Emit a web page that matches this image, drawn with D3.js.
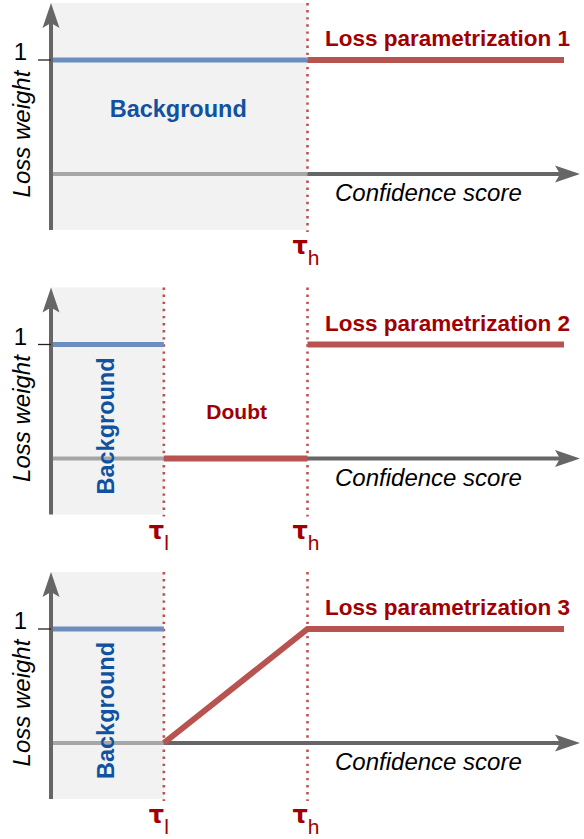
<!DOCTYPE html>
<html>
<head>
<meta charset="utf-8">
<script src="https://cdn.jsdelivr.net/npm/d3@7"></script>
<style>
  html, body { margin: 0; padding: 0; background: #fff; }
  svg { display: block; font-family: "Liberation Sans", Arial, sans-serif; }
</style>
</head>
<body>
<svg id="chart" width="584" height="839"></svg>
<script>
// panel titles and thresholds
const panelTitles = ["Loss parametrization 1", "Loss parametrization 2", "Loss parametrization 3"];
const tauLow = 0.22;
const tauHigh = 0.5;
// where the background (blue) part stops in each panel
const backgroundEnd = [tauHigh, tauLow, tauLow];
const backgroundWeight = [1, 1, 1];
// red loss weight segments, [confidence, weight]
const lossSegments = [
  [[[tauHigh, 1], [1, 1]]],
  [[[tauLow, 0], [tauHigh, 0]], [[tauHigh, 1], [1, 1]]],
  [[[tauLow, 0], [tauHigh, 1], [1, 1]]]
];
const thresholdMarks = [
  [{v: tauHigh, sub: "h"}],
  [{v: tauLow, sub: "l"}, {v: tauHigh, sub: "h"}],
  [{v: tauLow, sub: "l"}, {v: tauHigh, sub: "h"}]
];
const verticalBgLabel = [false, true, true];
const doubtLabel = [false, true, false];
const yTicks = [1];

const svg = d3.select("#chart");
const panelStep = 284.5;
const yTop = 3, yBottom = 230;

const blue = "#6c8ebf", red = "#b85450", darkRed = "#a00000", textBlue = "#10529f";
const dark = "#666666", light = "#a6a6a6", shade = "#f2f2f2";

const x = d3.scaleLinear().domain([0, 1]).range([51, 564]);
const y = d3.scaleLinear().domain([0, 1]).range([174, 60]);
const xArrowEnd = 580;
const line = d3.line().x(d => x(d[0])).y(d => y(d[1]));

panelTitles.forEach((title, i) => {
  const g = svg.append("g").attr("transform", `translate(0,${i * panelStep})`);

  // shaded background area
  g.append("rect")
    .attr("x", x(0)).attr("y", yTop)
    .attr("width", x(backgroundEnd[i]) - x(0))
    .attr("height", yBottom - yTop)
    .attr("fill", shade);

  // threshold dotted lines
  g.selectAll(".thr").data(thresholdMarks[i]).join("line")
    .attr("x1", d => x(d.v)).attr("x2", d => x(d.v))
    .attr("y1", yTop).attr("y2", yBottom + 2)
    .attr("stroke", red).attr("stroke-width", 2.6)
    .attr("stroke-dasharray", "2.4,4.7");

  // x axis (zero line)
  g.append("line")
    .attr("x1", x(0)).attr("x2", x(backgroundEnd[i]))
    .attr("y1", y(0)).attr("y2", y(0))
    .attr("stroke", light).attr("stroke-width", 4);
  g.append("line")
    .attr("x1", x(backgroundEnd[i])).attr("x2", xArrowEnd - 20)
    .attr("y1", y(0)).attr("y2", y(0))
    .attr("stroke", dark).attr("stroke-width", 4);
  g.append("path")
    .attr("d", `M${xArrowEnd},${y(0)} L${xArrowEnd - 25},${y(0) - 8.5} L${xArrowEnd - 20},${y(0)} L${xArrowEnd - 25},${y(0) + 8.5} Z`)
    .attr("fill", dark);

  // background weight
  g.append("path")
    .attr("d", line([[0, backgroundWeight[i]], [backgroundEnd[i], backgroundWeight[i]]]))
    .attr("stroke", blue).attr("stroke-width", 5).attr("fill", "none");

  // loss weight
  g.selectAll(".seg").data(lossSegments[i]).join("path")
    .attr("d", d => line(d))
    .attr("stroke", red).attr("stroke-width", 6)
    .attr("stroke-linejoin", "miter")
    .attr("fill", "none");

  // y axis
  g.append("line")
    .attr("x1", x(0)).attr("x2", x(0))
    .attr("y1", yBottom).attr("y2", yTop + 20)
    .attr("stroke", dark).attr("stroke-width", 4);
  g.append("path")
    .attr("d", `M${x(0)},${yTop} L${x(0) - 8.5},${yTop + 25} L${x(0)},${yTop + 20} L${x(0) + 8.5},${yTop + 25} Z`)
    .attr("fill", dark);

  g.selectAll(".tick").data(yTicks).join("line")
    .attr("x1", 38).attr("x2", x(0))
    .attr("y1", d => y(d)).attr("y2", d => y(d))
    .attr("stroke", "#222").attr("stroke-width", 1.3);
  g.selectAll(".tickLabel").data(yTicks).join("text")
    .attr("x", 27).attr("y", d => y(d))
    .attr("text-anchor", "end")
    .style("font-size", "24px")
    .text(d => d);

  // axis titles
  g.append("text")
    .attr("transform", "translate(30,134) rotate(-90)")
    .attr("text-anchor", "middle")
    .style("font-size", "24px").style("font-style", "italic")
    .text("Loss weight");
  g.append("text")
    .attr("x", 335).attr("y", 201)
    .style("font-size", "24px").style("font-style", "italic")
    .text("Confidence score");

  g.append("text")
    .attr("x", 570).attr("y", 46)
    .attr("text-anchor", "end")
    .attr("fill", darkRed)
    .style("font-size", "22.5px").style("font-weight", "bold")
    .text(title);

  if (verticalBgLabel[i]) {
    g.append("text")
      .attr("transform", "translate(114,141.5) rotate(-90)")
      .attr("text-anchor", "middle")
      .attr("fill", textBlue)
      .style("font-size", "23.5px").style("font-weight", "bold")
      .text("Background");
  } else {
    g.append("text")
      .attr("x", (x(0) + x(backgroundEnd[i])) / 2 - 1).attr("y", 117)
      .attr("text-anchor", "middle")
      .attr("fill", textBlue)
      .style("font-size", "23.5px").style("font-weight", "bold")
      .text("Background");
  }
  if (doubtLabel[i]) {
    g.append("text")
      .attr("x", (x(tauLow) + x(tauHigh)) / 2 + 1).attr("y", 134.5)
      .attr("text-anchor", "middle")
      .attr("fill", darkRed)
      .style("font-size", "21px").style("font-weight", "bold")
      .text("Doubt");
  }

  // threshold labels
  const tl = g.selectAll(".tauLabel").data(thresholdMarks[i]).join("text")
    .attr("x", d => x(d.v) - 15).attr("y", 254)
    .attr("fill", darkRed);
  tl.append("tspan")
    .style("font-family", "'DejaVu Sans', sans-serif")
    .style("font-size", "24px").style("font-weight", "bold")
    .text("τ");
  tl.append("tspan")
    .attr("dy", 11)
    .style("font-size", "21px")
    .text(d => d.sub);
});
</script>
</body>
</html>
